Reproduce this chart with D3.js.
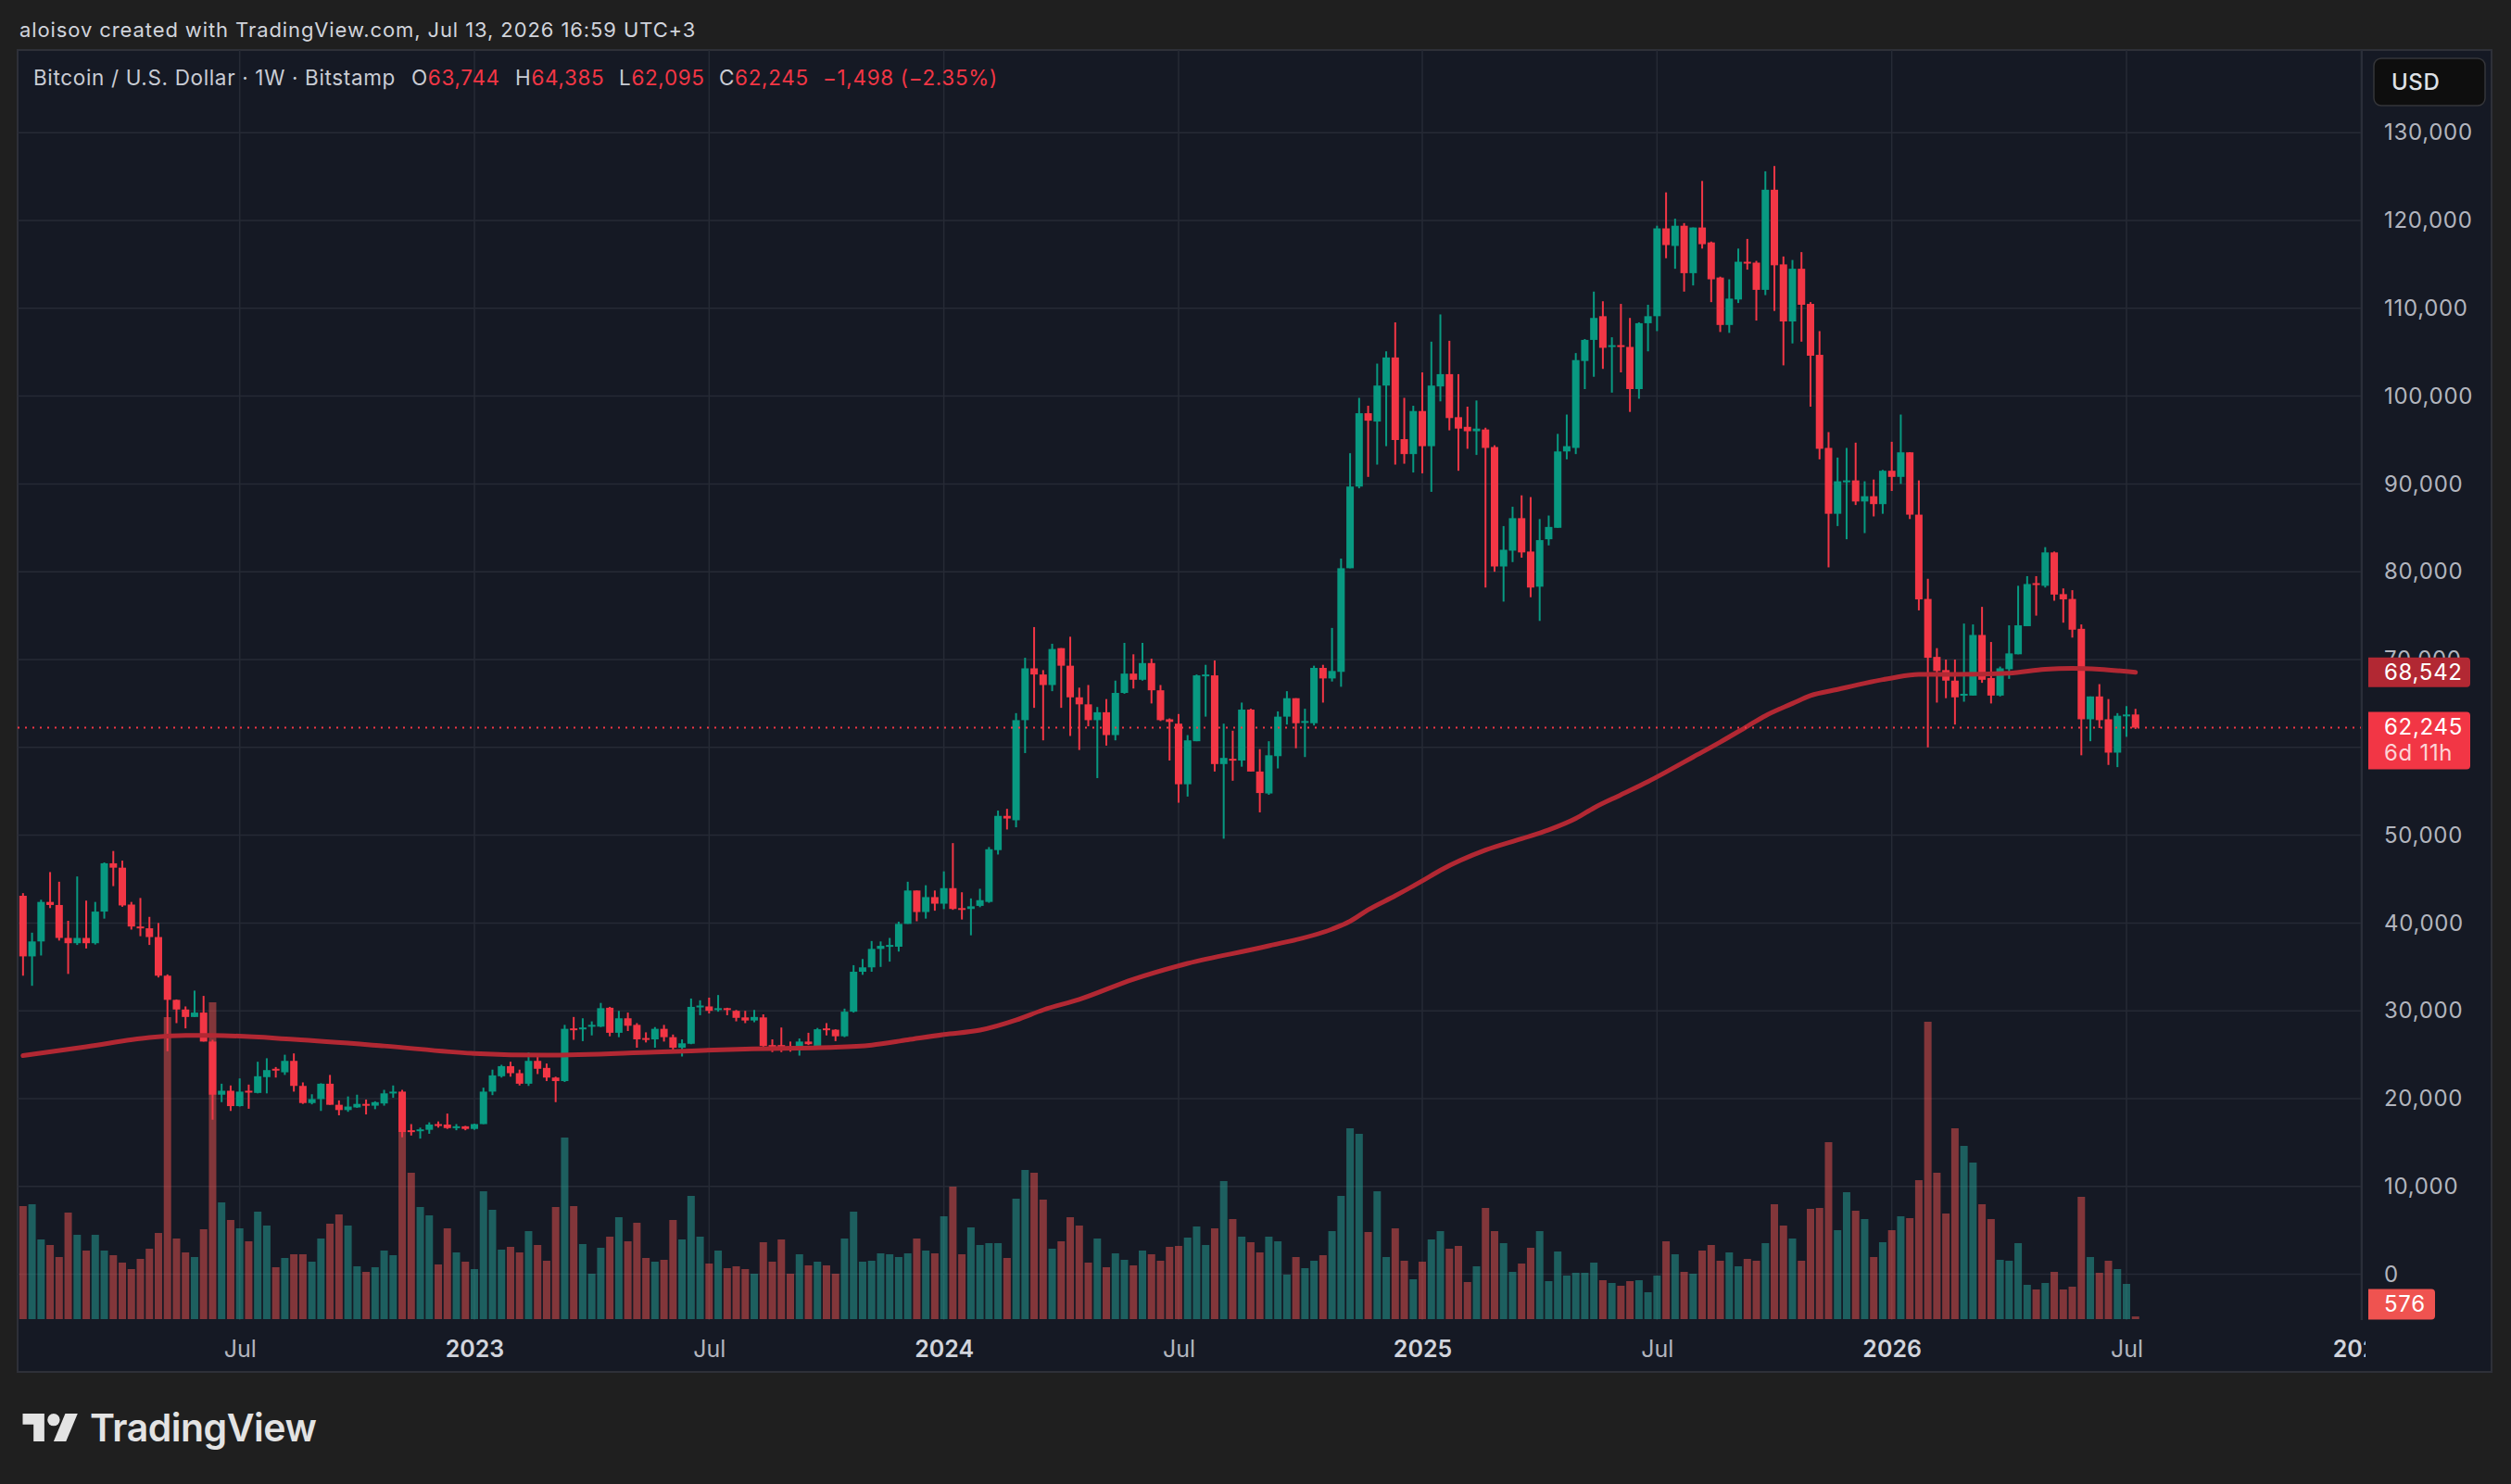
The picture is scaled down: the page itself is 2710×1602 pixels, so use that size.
<!DOCTYPE html>
<html>
<head>
<meta charset="utf-8">
<title>Bitcoin / U.S. Dollar · 1W · Bitstamp</title>
<script src="https://cdn.jsdelivr.net/npm/d3@7"></script>
<style>
  html, body { margin: 0; padding: 0; background: #1f1f1f; }
  svg { display: block; }
  text { font-family: Inter, "Noto Sans", Roboto, sans-serif; }
</style>
</head>
<body>
<svg id="chart" width="2710" height="1602"></svg>
<script>
// weekly bars, the first one opens Monday 2022-01-17
const firstWeek = new Date(Date.UTC(2022, 0, 17));

// [open, high, low, close]
const ohlc2022 = [
  [43100, 43400, 34000, 36200], [36200, 38900, 32850, 37900], [37900, 42650, 36300, 42400], [42400, 45800, 41700, 42050],
  [42050, 44700, 38000, 38300], [38300, 40250, 34200, 37700], [37700, 45300, 37500, 38300], [38300, 42550, 37100, 37700],
  [37700, 42400, 37550, 41300], [41300, 46900, 40500, 46800], [46800, 48200, 44200, 46300], [46300, 47100, 41850, 42000],
  [42100, 42400, 39250, 39600], [39600, 42850, 38500, 39400], [39400, 40700, 37500, 38400], [38400, 40000, 33800, 34000],
  [34000, 34150, 25400, 31250], [31250, 31300, 28600, 30150], [30150, 30500, 28000, 29300], [29300, 32300, 29300, 29800],
  [29800, 31700, 26500, 26500], [26500, 26700, 17600, 20450], [20450, 21700, 19600, 20900], [20900, 21500, 18600, 19150],
  [19150, 22300, 19100, 20800], [20900, 21600, 18850, 20750], [20650, 24200, 20600, 22550], [22450, 24600, 20600, 23250],
  [23400, 23600, 22400, 23200], [23000, 25000, 22700, 24300], [24300, 25150, 20800, 21450], [21450, 21850, 19400, 19500],
  [19500, 20500, 19350, 19950], [19950, 21750, 18600, 21700], [21700, 22700, 19300, 19300], [19300, 19800, 18100, 18700],
  [18700, 20250, 18500, 19100], [19000, 20450, 18950, 19400], [19400, 19900, 18200, 19200], [19200, 19700, 18800, 19600],
  [19450, 21000, 19200, 20600], [20600, 21500, 20100, 20800], [20800, 21000, 15600, 16200], [16400, 17100, 15800, 16300],
  [16300, 16700, 15450, 16500], [16450, 17300, 16000, 17050], [17100, 17400, 16700, 16900], [17050, 18300, 16550, 16650],
  [16750, 17100, 16400, 16850], [16850, 16900, 16400, 16550]
];
const ohlc2023 = [
  [16550, 17150, 16450, 17100], [17100, 21250, 17100, 20800], [20800, 23300, 20400, 22650], [22550, 23850, 22400, 23700],
  [23700, 24200, 22500, 22900], [22900, 23300, 21500, 21700], [21700, 25250, 21450, 24300], [24300, 25100, 22800, 23400],
  [23500, 24000, 22000, 22400], [22400, 22500, 19600, 22000], [22000, 28400, 21900, 27950], [28000, 29300, 26700, 27950],
  [27900, 29150, 26550, 28100], [28300, 28800, 27200, 28400], [28200, 30900, 28150, 30300], [30350, 30450, 27100, 27500],
  [27500, 30000, 27000, 29150], [29150, 29800, 27700, 28300], [28400, 28600, 25800, 26750], [26900, 27550, 26400, 26850],
  [26750, 28150, 25800, 27950], [27950, 28400, 26500, 27000], [27000, 27300, 25300, 25800], [25800, 26750, 24800, 26300],
  [26250, 31400, 26200, 30450], [30450, 31200, 29500, 30600], [30500, 31500, 29700, 30000], [30200, 31800, 29900, 30300],
  [30300, 30350, 29500, 30150], [30000, 30100, 28800, 29200], [29250, 30000, 28600, 28900], [28900, 30100, 28700, 29300],
  [29250, 29600, 25600, 26000], [26100, 26750, 25300, 26000], [26100, 28100, 25300, 25900], [25950, 26500, 25350, 25800],
  [25750, 26850, 24900, 26500], [26500, 27500, 26100, 26200], [26000, 28050, 25900, 27900], [28000, 28600, 27200, 27900],
  [27850, 27900, 26550, 27100], [27100, 30250, 27000, 29900], [29900, 35200, 29800, 34450], [34450, 35900, 34100, 34950],
  [34950, 37950, 34450, 37050], [37050, 37900, 35000, 37400], [37400, 38300, 35600, 37500], [37300, 40150, 36750, 39900],
  [39900, 44700, 39900, 43700], [43700, 43700, 40200, 41250], [41250, 44300, 40500, 42950], [42950, 43700, 41400, 42200]
];
const ohlc2024 = [
  [42200, 45880, 41580, 43970], [43970, 49100, 41500, 41600], [41700, 43500, 40400, 41650], [41600, 42800, 38600, 41900],
  [41950, 43900, 41800, 42600], [42400, 48650, 42300, 48400], [48300, 52800, 47800, 52200], [52200, 53000, 50650, 51900],
  [51700, 63900, 50900, 63100], [63100, 70200, 59350, 69000], [69000, 73700, 64500, 68300], [68300, 68800, 60800, 67100],
  [67100, 71800, 66400, 71200], [71300, 71300, 64500, 69300], [69300, 72600, 61300, 65700], [65700, 66800, 59700, 64900],
  [64900, 67100, 62400, 63100], [63100, 64600, 56500, 64000], [64000, 65500, 60200, 61400], [61400, 67600, 60800, 66200],
  [66200, 71900, 66100, 68400], [68400, 70600, 66700, 67700], [67700, 71900, 67600, 69600], [69600, 70100, 65000, 66500],
  [66500, 67100, 63000, 63100], [63200, 63300, 58500, 62900], [62700, 63800, 53700, 55800], [55800, 61400, 54400, 60800],
  [60700, 68300, 60700, 68200], [68100, 69400, 63500, 68300], [68200, 69900, 57250, 58100], [58100, 62700, 49600, 58800],
  [58700, 61900, 56200, 58500], [58500, 65100, 57800, 64300], [64300, 64400, 57250, 57250], [57250, 59800, 52600, 54800],
  [54750, 60700, 54600, 59100], [59000, 64100, 57600, 63500], [63500, 66400, 62600, 65600], [65600, 65600, 59900, 62750],
  [62800, 64400, 58900, 63000], [62750, 69300, 62500, 69050], [69050, 69400, 65100, 67850], [67850, 73600, 67500, 68700],
  [68600, 81500, 66900, 80400], [80400, 93500, 80400, 89700], [89700, 99800, 89500, 98050], [98050, 98900, 90800, 97200],
  [97100, 103700, 92200, 101200], [101200, 105100, 94300, 104400], [104400, 108400, 92200, 95000], [95100, 99800, 92300, 93400],
  [93400, 98900, 91300, 98300]
];
const ohlc2025 = [
  [98300, 102700, 91200, 94300], [94300, 106200, 89100, 101200], [101100, 109300, 99400, 102500], [102500, 106300, 96100, 97500],
  [97600, 102500, 91500, 96300], [96500, 98800, 94000, 96000], [96000, 99500, 93300, 96300], [96200, 96400, 78200, 94100],
  [94200, 94400, 80000, 80600], [80600, 85200, 76600, 82500], [82400, 87400, 81100, 86100], [86100, 88700, 81600, 82200],
  [82300, 88500, 77100, 78200], [78300, 86000, 74400, 83600], [83700, 86400, 83000, 85100], [85000, 95700, 85000, 93700],
  [93700, 97900, 92800, 94300], [94100, 104900, 93400, 104100], [104000, 106500, 100800, 106400], [106400, 111900, 102200, 108900],
  [109100, 110800, 103100, 105500], [105600, 106700, 100400, 105800], [105800, 110500, 102700, 105600], [105600, 108900, 98200, 100800],
  [100800, 108400, 99700, 108300], [108300, 110400, 105100, 109100], [109100, 119400, 107400, 119100], [119100, 123200, 115700, 117200],
  [117100, 120200, 114500, 119400], [119400, 119700, 111900, 114000], [114000, 119200, 112600, 119200], [119200, 124500, 116800, 117300],
  [117500, 117600, 110700, 113300], [113500, 113600, 107300, 108100], [108100, 113300, 107200, 111100], [111000, 116800, 110600, 115300],
  [115300, 117900, 114400, 115200], [115200, 115400, 108600, 112100], [112100, 125600, 111500, 123500], [123500, 126200, 109700, 114900],
  [115000, 115900, 103500, 108500], [108500, 115500, 106000, 114500], [114500, 116400, 106200, 110400], [110500, 110700, 98800, 104600],
  [104700, 107400, 92800, 94000], [94100, 95900, 80500, 86600], [86600, 93000, 85200, 90300], [90300, 94100, 83700, 90400],
  [90400, 94700, 87600, 88000], [88000, 90300, 84400, 88600], [88600, 90500, 86300, 87700], [87700, 91600, 86600, 91500]
];
const ohlc2026 = [
  [91500, 94800, 89200, 90800], [90800, 97900, 90000, 93600], [93600, 93600, 86000, 86500], [86500, 90400, 75600, 76850],
  [76900, 79200, 60000, 70200], [70300, 71300, 65100, 68700], [68800, 70000, 65600, 67600], [67600, 70000, 62600, 65700],
  [65900, 74100, 65200, 66100], [65900, 74000, 65900, 72800], [72800, 76000, 67350, 67700], [67900, 72000, 65000, 65900],
  [65900, 69200, 65800, 69000], [68900, 73900, 67800, 70700], [70600, 78400, 70600, 73900], [73800, 79500, 73800, 78600],
  [78700, 79500, 75000, 78500], [78400, 82800, 78200, 82200], [82200, 82300, 76700, 77400], [77450, 78100, 74200, 76850],
  [76900, 77900, 72500, 73400], [73500, 74000, 59100, 63200], [63200, 65800, 60700, 65800], [65800, 67200, 62200, 63100],
  [63200, 65500, 58000, 59400], [59400, 63900, 57750, 63600], [63600, 64700, 61200, 63743], [63744, 64385, 62095, 62245]
];

// weekly volume, BTC
const vol2022 = [
  24400, 24800, 17200, 16000, 13400, 23000, 18200, 14800, 18200, 14800, 13800, 12200, 10800, 13000, 15200, 18600, 65200,
  17400, 14400, 13400, 19400, 68400, 25200, 21400, 19600, 16800, 23200, 20200, 11200, 13200, 14000, 14000, 12400, 17400,
  20600, 22600, 20200, 11400, 10200, 11200, 14800, 13800, 48000, 31600, 24200, 22400, 11800, 19600, 14400, 12400
];
const vol2023 = [
  10800, 27600, 23600, 15000, 15600, 14400, 19000, 16000, 12600, 24200, 39200, 24400, 16200, 9800, 15400, 17800, 22000,
  16800, 20800, 13200, 12400, 12800, 21400, 17200, 26600, 17800, 12000, 14800, 11000, 11400, 10800, 9800, 16600, 12400,
  17200, 9800, 14000, 11600, 12400, 11600, 9800, 17400, 23200, 12400, 12600, 14200, 14000, 13400, 14200, 17400, 14800, 14200
];
const vol2024 = [
  22200, 28600, 14000, 19800, 16000, 16400, 16400, 13200, 26000, 32200, 31600, 25800, 15200, 16800, 22000, 20200, 12200,
  17400, 11200, 14200, 12800, 11600, 14800, 14000, 12600, 15600, 15800, 17600, 20000, 16000, 19600, 29800, 21600, 17800,
  16600, 14400, 17800, 16800, 9600, 13400, 11000, 12600, 13800, 19000, 26600, 41200, 40000, 18800, 27600, 13400, 19600,
  12600, 8600
];
const vol2025 = [
  12400, 17200, 19000, 15200, 15800, 8000, 11400, 24000, 19000, 16400, 10200, 12000, 15400, 19000, 8200, 14600, 9400,
  10000, 10000, 12200, 8400, 7800, 7200, 8200, 8400, 5800, 9400, 16800, 14000, 10200, 9800, 14800, 16000, 12600, 14400,
  11400, 13000, 12600, 16400, 24800, 20200, 17400, 12600, 23800, 24000, 38200, 19200, 27400, 23400, 21600, 13400, 16600
];
const vol2026 = [
  19200, 22200, 21800, 30000, 64200, 31600, 22800, 41200, 37400, 33800, 24800, 21600, 12800, 12600, 16400, 7400, 6400,
  7800, 10200, 6400, 7000, 26400, 13400, 10000, 12600, 10800, 7600, 576
];

// 200-week moving average: [bar number, value]
const ma200 = [
  [0, 24900], [7, 25900], [14, 26950], [18, 27200], [21, 27200], [30, 26750], [40, 26000], [50, 25150], [58, 24950],
  [70, 25300], [80, 25650], [90, 25850], [94, 26100], [98, 26700], [102, 27300], [106, 27800], [110, 28950], [113, 30100],
  [117, 31300], [123, 33600], [129, 35400], [138, 37400], [145, 39300], [147, 40200], [149, 41500], [152, 43100],
  [155, 44800], [157, 46000], [162, 48300], [166, 49600], [169, 50600], [172, 51900], [174, 53100], [177, 54600],
  [180, 56100], [182, 57200], [185, 58900], [188, 60600], [191, 62400], [193, 63600], [196, 65000], [198, 65900],
  [201, 66600], [204, 67300], [207, 67900], [210, 68300], [214, 68300], [220, 68450], [224, 68900], [227, 69000],
  [230, 68900], [234, 68542]
];

const priceTicks = d3.range(0, 130001, 10000);
const timeTicks = ['2022-07-04', '2023-01-02', '2023-07-03', '2024-01-01', '2024-07-01',
  '2025-01-06', '2025-07-07', '2026-01-05', '2026-07-06', '2027-01-04'].map(s => new Date(s + 'T00:00:00Z'));

const headerText = 'aloisov created with TradingView.com, Jul 13, 2026 16:59 UTC+3';
const symbolText = 'Bitcoin / U.S. Dollar · 1W · Bitstamp';
const timeLeft = '6d 11h';

const UP = '#089981';
const DOWN = '#f23645';
const VOL_UP = 'rgba(38,166,154,0.5)';
const VOL_DOWN = 'rgba(239,83,80,0.5)';
const MA_COLOR = '#b22833';
const GRID = '#262a35';
const AXIS_TEXT = '#b2b5be';

const panel = { left: 19, top: 54, right: 2689, bottom: 1481 };
const plot = { left: 19, top: 54, right: 2549, bottom: 1425 };

const ohlc = [ohlc2022, ohlc2023, ohlc2024, ohlc2025, ohlc2026].flat();
const volumes = [vol2022, vol2023, vol2024, vol2025, vol2026].flat();
const bars = ohlc.map((d, k) => ({
  date: d3.utcMonday.offset(firstWeek, k),
  open: d[0], high: d[1], low: d[2], close: d[3],
  volume: volumes[k]
}));
const last = bars[bars.length - 1];
const prev = bars[bars.length - 2];

const x = d3.scaleUtc()
  .domain([new Date(Date.UTC(2023, 0, 2)), new Date(Date.UTC(2026, 6, 6))])
  .range([512, 2295]);
const y = d3.scaleLinear().domain([0, 130000]).range([1375.6, 143.2]);
const yVol = d3.scaleLinear().domain([0, d3.max(volumes)]).range([1424, 1082]);

const svg = d3.select('#chart');

svg.append('rect').attr('width', 2710).attr('height', 1602).attr('fill', '#1f1f1f');

svg.append('text')
  .attr('x', 21).attr('y', 40)
  .attr('font-size', 22).attr('letter-spacing', 0.9).attr('fill', '#d1d4dc')
  .text(headerText);

svg.append('rect')
  .attr('x', panel.left).attr('y', panel.top)
  .attr('width', panel.right - panel.left).attr('height', panel.bottom - panel.top)
  .attr('fill', '#151924').attr('stroke', '#2e3038').attr('stroke-width', 2);

const defs = svg.append('defs');
defs.append('clipPath').attr('id', 'plot-clip')
  .append('rect')
  .attr('x', plot.left).attr('y', plot.top)
  .attr('width', plot.right - plot.left).attr('height', plot.bottom - plot.top);
defs.append('clipPath').attr('id', 'time-clip')
  .append('rect')
  .attr('x', plot.left).attr('y', plot.bottom)
  .attr('width', plot.right + 4 - plot.left).attr('height', panel.bottom - plot.bottom);

// grid
const grid = svg.append('g').attr('clip-path', 'url(#plot-clip)');
grid.selectAll('.hgrid').data(priceTicks).enter().append('line')
  .attr('x1', plot.left).attr('x2', plot.right)
  .attr('y1', d => y(d)).attr('y2', d => y(d))
  .attr('stroke', GRID).attr('stroke-width', 1.5);
grid.selectAll('.vgrid').data(timeTicks).enter().append('line')
  .attr('x1', d => x(d)).attr('x2', d => x(d))
  .attr('y1', plot.top).attr('y2', plot.bottom)
  .attr('stroke', GRID).attr('stroke-width', 1.5);

const marks = svg.append('g').attr('clip-path', 'url(#plot-clip)');

// volume
marks.append('g').selectAll('rect').data(bars).enter().append('rect')
  .attr('x', d => x(d.date) - 4)
  .attr('width', 8)
  .attr('y', d => yVol(d.volume))
  .attr('height', d => yVol(0) - yVol(d.volume))
  .attr('fill', d => d.close >= d.open ? VOL_UP : VOL_DOWN);

// candles
const candle = marks.append('g').selectAll('g').data(bars).enter().append('g')
  .attr('fill', d => d.close >= d.open ? UP : DOWN);
candle.append('rect')
  .attr('x', d => x(d.date) - 1)
  .attr('width', 2)
  .attr('y', d => y(d.high))
  .attr('height', d => y(d.low) - y(d.high));
candle.append('rect')
  .attr('x', d => x(d.date) - 4)
  .attr('width', 8)
  .attr('y', d => y(Math.max(d.open, d.close)))
  .attr('height', d => Math.max(2, Math.abs(y(d.open) - y(d.close))));

// moving average
const maLine = d3.line()
  .x(d => x(d3.utcMonday.offset(firstWeek, d[0])))
  .y(d => y(d[1]))
  .curve(d3.curveMonotoneX);
marks.append('path')
  .datum(ma200)
  .attr('d', maLine)
  .attr('fill', 'none')
  .attr('stroke', MA_COLOR)
  .attr('stroke-width', 5)
  .attr('stroke-linecap', 'round');

// last price line
marks.append('line')
  .attr('x1', plot.left).attr('x2', plot.right)
  .attr('y1', y(last.close)).attr('y2', y(last.close))
  .attr('stroke', DOWN).attr('stroke-width', 2).attr('stroke-dasharray', '2,6');

// axes
svg.append('line')
  .attr('x1', plot.right).attr('x2', plot.right)
  .attr('y1', panel.top).attr('y2', plot.bottom)
  .attr('stroke', '#2a2e39').attr('stroke-width', 2);

const fmt = d3.format(',');
const lastBox = [y(last.close) - 17, y(last.close) + 45];

const yAxis = svg.append('g')
  .attr('transform', `translate(${plot.right},0)`)
  .call(d3.axisRight(y).tickValues(priceTicks).tickFormat(fmt).tickSize(0).tickPadding(24));
yAxis.select('.domain').remove();
yAxis.selectAll('text')
  .attr('font-size', 24)
  .attr('letter-spacing', 0.7)
  .attr('fill', AXIS_TEXT);
// the scale hides a tick label sitting under the last-price tag
yAxis.selectAll('.tick').filter(d => y(d) > lastBox[0] && y(d) < lastBox[1]).remove();

const xAxis = svg.append('g')
  .attr('clip-path', 'url(#time-clip)')
  .append('g')
  .attr('transform', `translate(0,${plot.bottom})`)
  .call(d3.axisBottom(x).tickValues(timeTicks)
    .tickFormat(d => d.getUTCMonth() === 0 ? d3.utcFormat('%Y')(d) : d3.utcFormat('%b')(d))
    .tickSize(0).tickPadding(22));
xAxis.select('.domain').remove();
xAxis.selectAll('text')
  .attr('font-size', 25)
  .attr('font-weight', d => d.getUTCMonth() === 0 ? 600 : 400)
  .attr('fill', d => d.getUTCMonth() === 0 ? '#d1d4dc' : AXIS_TEXT);

// price scale tags
function priceLabel (yc, h, color, lines, width) {
  const g = svg.append('g');
  g.append('path')
    .attr('d', `M2556,${yc - h / 2}h${width - 4}q4,0 4,4v${h - 8}q0,4 -4,4h${-(width - 4)}z`)
    .attr('fill', color);
  lines.forEach((l, k) => {
    g.append('text')
      .attr('x', 2573)
      .attr('y', yc - h / 2 + 24 + k * 28)
      .attr('font-size', 24)
      .attr('letter-spacing', 0.7)
      .attr('fill', l.color)
      .text(l.text);
  });
}
const maLast = ma200[ma200.length - 1][1];
priceLabel(y(maLast), 32, MA_COLOR, [{ text: fmt(maLast), color: '#ffffff' }], 110);
priceLabel(y(last.close) + 14, 62, DOWN,
  [{ text: fmt(last.close), color: '#ffffff' }, { text: timeLeft, color: '#fcd3d6' }], 110);
priceLabel(Math.min(yVol(last.volume), plot.bottom - 17), 33, '#ef5350',
  [{ text: fmt(last.volume), color: '#ffffff' }], 72);

// legend
const legend = svg.append('g').attr('font-size', 22.5).attr('letter-spacing', 0.65);
legend.append('text').attr('x', 36).attr('y', 92).attr('fill', '#c9ccd4').text(symbolText);
const change = last.close - prev.close;
const pct = change / prev.close * 100;
const signed = v => (v < 0 ? '\u2212' : '+') + v;
[['O', last.open, 444], ['H', last.high, 556], ['L', last.low, 668], ['C', last.close, 776]].forEach(([k, v, px]) => {
  const t = legend.append('text').attr('x', px).attr('y', 92);
  t.append('tspan').attr('fill', '#c9ccd4').text(k);
  t.append('tspan').attr('fill', DOWN).text(fmt(v));
});
legend.append('text').attr('x', 888).attr('y', 92).attr('fill', DOWN)
  .text(`${signed(fmt(Math.abs(change)))} (${signed(Math.abs(pct).toFixed(2))}%)`.replace(/\+/g, change < 0 ? '\u2212' : '+'));

// currency button
svg.append('rect')
  .attr('x', 2562).attr('y', 63).attr('width', 120).attr('height', 51).attr('rx', 8)
  .attr('fill', '#0e0e0e').attr('stroke', '#35363a').attr('stroke-width', 1.5);
svg.append('text')
  .attr('x', 2581).attr('y', 97)
  .attr('font-size', 24).attr('font-weight', 500).attr('letter-spacing', 0.6).attr('fill', '#dfe1e6')
  .text('USD');

// logo
const logo = svg.append('g').attr('fill', '#e3e3e3');
logo.append('g')
  .attr('transform', 'translate(24.5,1519.3) scale(1.67)')
  .call(g => {
    g.append('path').attr('d', 'M14 22H7V11H0V4h14v18z');
    g.append('circle').attr('cx', 20).attr('cy', 8).attr('r', 4);
    g.append('path').attr('d', 'M28 22h-8l7.5-18h8L28 22z');
  });
logo.append('text')
  .attr('x', 97).attr('y', 1556)
  .attr('font-size', 41).attr('font-weight', 600).attr('letter-spacing', -0.5)
  .text('TradingView');
</script>
</body>
</html>
